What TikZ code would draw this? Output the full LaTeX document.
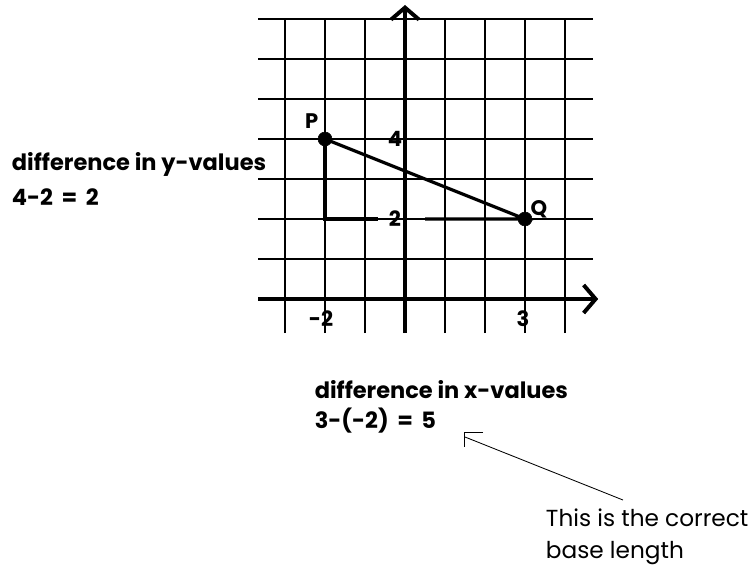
\documentclass[tikz,border=0pt]{standalone}
\usepackage{fontspec}
\setmainfont{Poppins}
\usetikzlibrary{arrows.meta}

\begin{document}
\begin{tikzpicture}
  \useasboundingbox (-10.125,-6.75) rectangle (8.65,7.475);
  \draw[line width=0.9pt] (-3.67,-0.85) grid (4.7,7);
  \draw[line width=2.8pt,-{Straight Barb[length=3mm,width=7mm]}] (-3.67,0) -- (4.83,0);
  \draw[line width=2.8pt,-{Straight Barb[length=3mm,width=7mm]}] (0,-0.85) -- (0,7.35);
  \node[draw,circle,inner sep=3.5pt,fill] (P) at (-2,4) {};
  \node[draw,circle,inner sep=3.5pt,fill] (Q) at (3,2) {};
  \coordinate (R) at (-2,2);
  \coordinate (gapL) at (-0.68,2);
  \coordinate (gapR) at (0.5,2);
  \draw[line width=2.3pt] (P.center) -- (R) -- (gapL);
  \draw[line width=2.3pt] (gapR) -- (Q.center) -- (P.center);
  \node[font=\fontsize{15}{17}\selectfont\bfseries] (labP) at (-2.33,4.45) {P};
  \node[font=\fontsize{15}{17}\selectfont\bfseries] (labQ) at (3.35,2.25) {Q};
  \node[font=\fontsize{15}{17}\selectfont\bfseries] (labfour) at (-0.25,4) {4};
  \node[font=\fontsize{15}{17}\selectfont\bfseries] (labtwo) at (-0.25,2) {2};
  \node[font=\fontsize{15}{17}\selectfont\bfseries] (labmtwo) at (-2.1,-0.5) {-2};
  \node[font=\fontsize{15}{17}\selectfont\bfseries] (labthree) at (2.95,-0.5) {3};
  \node[font=\fontsize{16}{25}\selectfont\bfseries,anchor=west,align=left] (ydiff) at (-9.95,3.0) {difference in y-values\\4-2 \,=\, 2};
  \node[font=\fontsize{16}{21}\selectfont\bfseries,anchor=west,align=left] (xdiff) at (-2.38,-2.7) {difference in x-values\\3-(-2) \,=\, 5};
  \node[font=\fontsize{16.5}{23}\selectfont,anchor=west,align=left] (note) at (3.4,-5.94) {This is the correct\\base length};
  \coordinate (tip) at (1.475,-3.325);
  \coordinate (shaft) at (1.5,-3.45);
  \coordinate (noteend) at (5.45,-5.025);
  \draw[line width=0.6pt] (noteend) -- (shaft);
  \draw[line width=0.6pt] (1.95,-3.325) -- (tip) -- (1.475,-3.7);
\end{tikzpicture}
\end{document}
